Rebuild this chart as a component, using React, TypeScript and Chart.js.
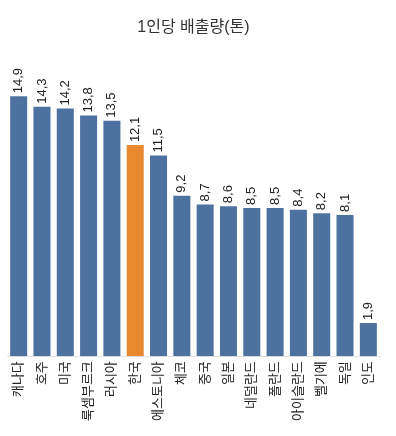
import React, { useEffect, useRef } from "react";
import { Chart, registerables } from "chart.js";

Chart.register(...registerables);

const categories = ["캐나다", "호주", "미국", "룩셈부르크", "러시아", "한국", "에스토니아", "체코", "중국", "일본", "네덜란드", "폴란드", "아이슬란드", "벨기에", "독일", "인도"];
const values = [14.9, 14.3, 14.2, 13.8, 13.5, 12.1, 11.5, 9.2, 8.7, 8.6, 8.5, 8.5, 8.4, 8.2, 8.1, 1.9];
const highlight = "한국";
const titleText = "1인당 배출량(톤)";

const BLUE = "#4e72a0";
const ORANGE = "#e8892f";
const FONT = "'Liberation Sans', 'Noto Sans CJK KR', sans-serif";

const valueLabels = {
  id: "valueLabels",
  afterDatasetsDraw(chart: any) {
    const ctx = chart.ctx;
    const meta = chart.getDatasetMeta(0);
    ctx.save();
    ctx.font = `13px ${FONT}`;
    ctx.fillStyle = "#222";
    ctx.textAlign = "left";
    ctx.textBaseline = "middle";
    meta.data.forEach((bar: any, i: number) => {
      const txt = values[i].toFixed(1).replace(".", ",");
      ctx.save();
      ctx.translate(bar.x, bar.y - 3);
      ctx.rotate(-Math.PI / 2);
      ctx.fillText(txt, 0, 0);
      ctx.restore();
    });
    ctx.restore();
  },
};

export default function App() {
  const ref = useRef<HTMLCanvasElement>(null);
  useEffect(() => {
    document.body.style.margin = "0";
    const chart = new Chart(ref.current!, {
      type: "bar",
      data: {
        labels: categories,
        datasets: [
          {
            data: values,
            backgroundColor: categories.map((c) => (c === highlight ? ORANGE : BLUE)),
            categoryPercentage: 0.73,
            barPercentage: 1,
          },
        ],
      },
      options: {
        animation: false,
        responsive: false,
        layout: { padding: { left: 7, right: 16, top: 0, bottom: 10 } },
        plugins: {
          legend: { display: false },
          tooltip: { enabled: false },
          title: {
            display: true,
            text: titleText,
            color: "#333",
            font: { size: 16, weight: "normal", family: FONT },
            padding: { top: 18, bottom: 5 },
          },
        },
        scales: {
          x: {
            grid: { display: false, drawTicks: false },
            border: { display: true, color: "#e2e2e2" },
            ticks: {
              minRotation: 90,
              maxRotation: 90,
              padding: 5,
              color: "#222",
              font: { size: 13, family: FONT },
            },
          },
          y: {
            display: false,
            min: 0,
            max: 18,
          },
        },
      },
      plugins: [valueLabels],
    });
    return () => chart.destroy();
  }, []);
  return <canvas ref={ref} width={396} height={436} style={{ display: "block" }} />;
}
